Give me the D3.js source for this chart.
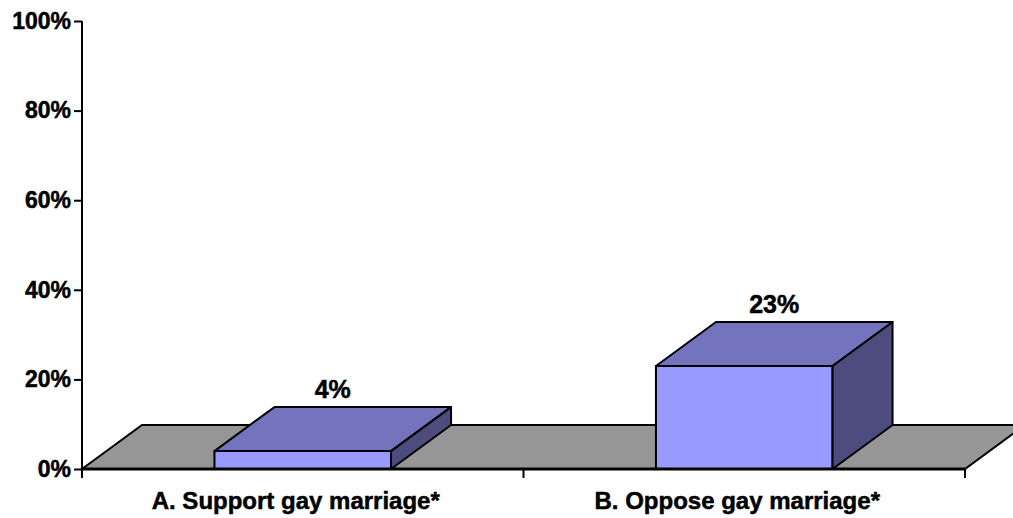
<!DOCTYPE html>
<html>
<head>
<meta charset="utf-8">
<script src="https://cdn.jsdelivr.net/npm/d3@7"></script>
<style>
  body { margin: 0; background: #fff; }
  text { font-family: "Liberation Sans", Arial, sans-serif; font-weight: bold; fill: #000; stroke: #000; stroke-width: 0.5px; }
</style>
</head>
<body>
<svg id="chart"></svg>
<script>
var categories = ["A. Support gay marriage*", "B. Oppose gay marriage*"];
var values = [4, 23];
var valueLabels = ["4%", "23%"];
var yTicks = [0, 20, 40, 60, 80, 100];

var WIDTH = 1013,
	HEIGHT = 518,
	DEPTH_X = 60, // 3D depth offset
	DEPTH_Y = -44,
	BAR_FRAC = 0.4;

var svg = d3.select("#chart")
	.attr("width", WIDTH)
	.attr("height", HEIGHT);

var x = d3.scaleBand()
	.domain(categories)
	.range([82, 965]);

var y = d3.scaleLinear()
	.domain([0, 100])
	.range([469, 21]);

var barW = x.bandwidth() * BAR_FRAC;

function pts(a) { return a.map(function(p) { return p.join(","); }).join(" "); }

// Floor
var x0 = x.range()[0], x1 = x.range()[1], yb = y(0);
svg.append("polygon")
	.attr("points", pts([[x0, yb], [x1, yb], [x1 + DEPTH_X, yb + DEPTH_Y], [x0 + DEPTH_X, yb + DEPTH_Y]]))
	.attr("fill", "#969696")
	.attr("stroke", "#000")
	.attr("stroke-width", 2)
	.attr("stroke-linejoin", "miter");

// Bars
var bar = svg.selectAll("g.bar")
	.data(categories)
  .enter().append("g")
	.attr("class", "bar");

bar.each(function(d, i) {
	var g = d3.select(this);
	var l = x(d) + (x.bandwidth() - barW) / 2,
		r = l + barW,
		t = y(values[i]),
		b = y(0);
	g.append("polygon")
		.attr("points", pts([[l, b], [r, b], [r, t], [l, t]]))
		.attr("fill", "#9999FF");
	g.append("polygon")
		.attr("points", pts([[l, t], [r, t], [r + DEPTH_X, t + DEPTH_Y], [l + DEPTH_X, t + DEPTH_Y]]))
		.attr("fill", "#7474BE");
	g.append("polygon")
		.attr("points", pts([[r, b], [r + DEPTH_X, b + DEPTH_Y], [r + DEPTH_X, t + DEPTH_Y], [r, t]]))
		.attr("fill", "#4C4C7E");
	g.selectAll("polygon")
		.attr("stroke", "#000")
		.attr("stroke-width", 2)
		.attr("stroke-linejoin", "round");

	// Value label above the top face
	g.append("text")
		.text(valueLabels[i])
		.attr("text-anchor", "middle")
		.attr("x", l + barW / 2 + DEPTH_X / 2)
		.attr("y", t + DEPTH_Y - 9)
		.style("font-size", "25px");
});

// Front edge of floor (x axis line)
svg.append("line")
	.attr("x1", x0).attr("x2", x1)
	.attr("y1", yb).attr("y2", yb)
	.attr("stroke", "#000")
	.attr("stroke-width", 3);

// X axis ticks at category boundaries
var xTickPos = categories.map(function(d) { return x(d); }).concat([x1]);
svg.selectAll("line.xtick")
	.data(xTickPos)
  .enter().append("line")
	.attr("class", "xtick")
	.attr("x1", function(d) { return d; })
	.attr("x2", function(d) { return d; })
	.attr("y1", yb)
	.attr("y2", yb + 9)
	.attr("stroke", "#000")
	.attr("stroke-width", 2);

// Category labels
svg.selectAll("text.xlab")
	.data(categories)
  .enter().append("text")
	.attr("class", "xlab")
	.text(function(d) { return d; })
	.attr("text-anchor", "middle")
	.attr("x", function(d) { return x(d) + x.bandwidth() / 2 - 7; })
	.attr("y", 509)
	.style("font-size", "24px");

// Y axis
var yAxis = d3.axisLeft(y)
	.tickValues(yTicks)
	.tickSize(8)
	.tickPadding(3)
	.tickFormat(function(d) { return d + "%"; });

var yg = svg.append("g")
	.attr("transform", "translate(" + x0 + ",0)")
	.call(yAxis);

yg.select(".domain").remove();
yg.append("line")
	.attr("x1", 0).attr("x2", 0)
	.attr("y1", y(100)).attr("y2", yb + 9)
	.attr("stroke", "#000")
	.attr("stroke-width", 2);
yg.selectAll(".tick line")
	.attr("stroke", "#000")
	.attr("stroke-width", 2);
yg.selectAll(".tick text")
	.attr("fill", "#000")
	.style("font-family", "'Liberation Sans', Arial, sans-serif")
	.style("font-weight", "bold")
	.style("font-size", "23px");
</script>
</body>
</html>
